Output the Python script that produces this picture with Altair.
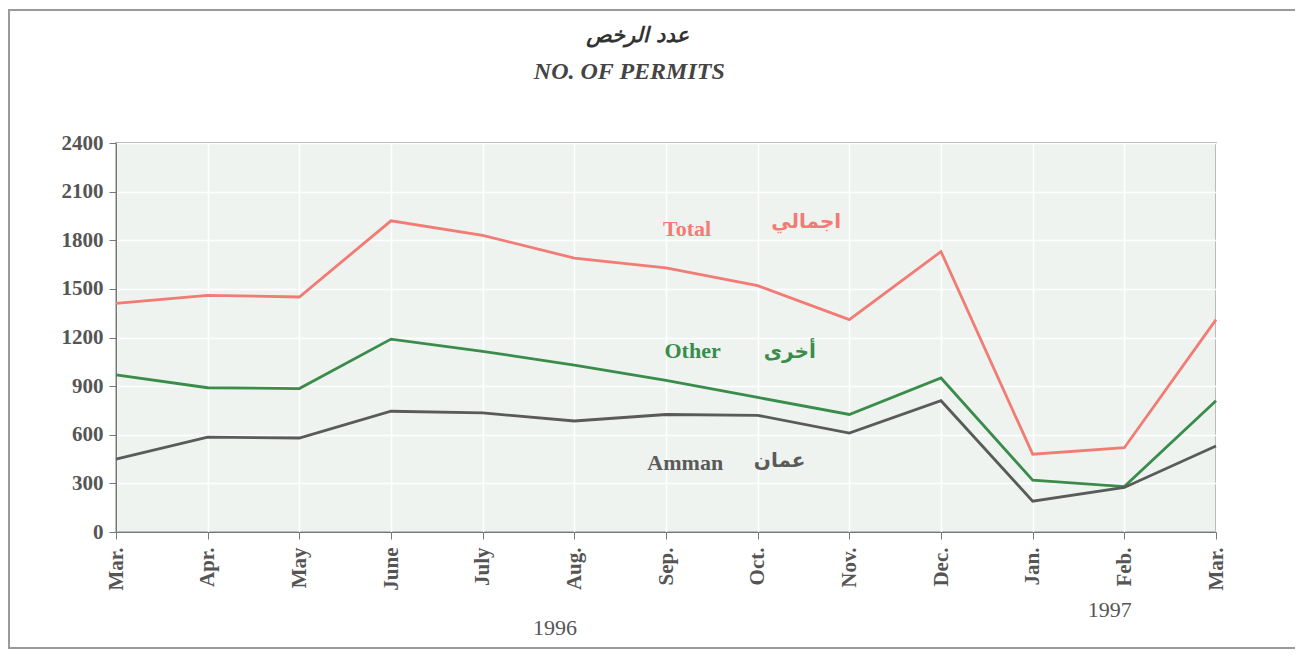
import altair as alt
import pandas as pd

months = ["Mar.", "Apr.", "May", "June", "July", "Aug.", "Sep.", "Oct.", "Nov.", "Dec.", "Jan.", "Feb.", "Mar."]
total = [1410, 1460, 1450, 1920, 1830, 1690, 1630, 1520, 1310, 1730, 480, 520, 1310]
other = [970, 890, 885, 1190, 1115, 1030, 935, 830, 725, 950, 320, 280, 810]
amman = [450, 585, 580, 745, 735, 685, 725, 720, 610, 810, 190, 275, 530]

series_names = ["Total", "Other", "Amman"]
series_colors = ["#f27b74", "#3a8c4a", "#5a5a5a"]

# annotation texts (positions in data units: month index, permits)
label_text = ["Total", "اجمالي", "Other", "أخرى", "Amman", "عمان", "1996", "1997",
              "عدد الرخص", "NO. OF PERMITS"]
label_x = [6.23, 7.53, 6.29, 7.35, 6.21, 7.24, 4.79, 10.84, 5.69, 5.60]
label_y = [1870, 1913, 1117, 1110, 426, 438, -592, -481, 3060, 2840]
label_color = ["#f27b74", "#f27b74", "#3a8c4a", "#3a8c4a", "#5a5a5a", "#5a5a5a",
               "#555555", "#555555", "#333333", "#444444"]
label_style = ["latin_b", "arabic", "latin_b", "arabic", "latin_b", "arabic",
               "year", "year", "arabic_title", "latin_title"]

rows = []
for i, m in enumerate(months):
    for name, vals in zip(series_names, [total, other, amman]):
        rows.append({"idx": i, "month": m, "series": name, "value": vals[i]})
df = pd.DataFrame(rows)

lab = pd.DataFrame({"text": label_text, "x": label_x, "y": label_y, "color": label_color,
                    "style": label_style})

label_expr = "[" + ",".join("'" + m + "'" for m in months) + "][datum.value]"

x_enc = alt.X("idx:Q", scale=alt.Scale(domain=[0, 12], nice=False, zero=False),
              axis=alt.Axis(values=list(range(13)), labelExpr=label_expr, title=None,
                            labelAngle=-90, labelFont="Liberation Serif", labelFontWeight="bold",
                            labelFontSize=21, labelColor="#555555", labelPadding=8,
                            tickSize=7, tickColor="#777777", domainColor="#777777",
                            grid=True, gridColor="#ffffff", gridWidth=1.5))
y_enc = alt.Y("value:Q", scale=alt.Scale(domain=[0, 2400], nice=False),
              axis=alt.Axis(values=list(range(0, 2401, 300)), title=None, format="d",
                            labelFont="Liberation Serif", labelFontWeight="bold",
                            labelFontSize=21, labelColor="#555555", labelPadding=6,
                            tickSize=7, tickColor="#777777", domainColor="#777777",
                            grid=True, gridColor="#ffffff", gridWidth=1.5))

lines = alt.Chart(df).mark_line(strokeWidth=2.8).encode(
    x=x_enc,
    y=y_enc,
    color=alt.Color("series:N", scale=alt.Scale(domain=series_names, range=series_colors), legend=None),
    detail="series:N",
)

styles = {
    "latin_b": dict(font="Liberation Serif", fontWeight="bold", fontSize=22),
    "arabic": dict(font="DejaVu Sans", fontWeight="bold", fontSize=20),
    "year": dict(font="Liberation Serif", fontWeight="normal", fontSize=22),
    "arabic_title": dict(font="DejaVu Sans", fontWeight="bold", fontStyle="italic", fontSize=21),
    "latin_title": dict(font="Liberation Serif", fontWeight="bold", fontStyle="italic", fontSize=24),
}

texts = []
for key, st in styles.items():
    sub = lab[lab["style"] == key]
    texts.append(
        alt.Chart(sub).mark_text(clip=False, align="center", baseline="middle", **st).encode(
            x="x:Q", y="y:Q", text="text:N",
            color=alt.Color("color:N", scale=None),
        )
    )

frame = alt.Chart(pd.DataFrame({"a": [0]})).mark_rect(
    fill=None, stroke="#9a9a9a", strokeWidth=2, clip=False
).encode(x=alt.value(-107), x2=alt.value(1181), y=alt.value(-133), y2=alt.value(505))

chart = alt.layer(frame, lines, *texts).properties(
    width=1100, height=389,
    background="#ffffff",
    autosize=alt.AutoSizeParams(type="none"),
    padding={"left": 108, "top": 135, "right": 79, "bottom": 118},
).configure_view(fill="#eef3f0", stroke="#8a8a8a", strokeWidth=1.5)

chart.save("out.html", embed_options={"renderer": "svg", "actions": False})
